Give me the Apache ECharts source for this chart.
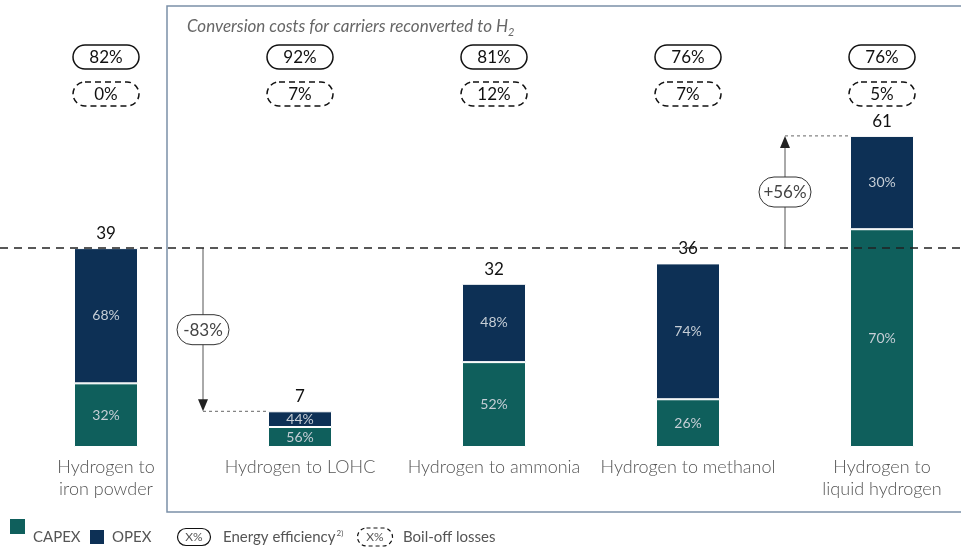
<!DOCTYPE html>
<html>
<head>
<meta charset="utf-8">
<script src="https://cdn.jsdelivr.net/npm/echarts@6/dist/echarts.min.js"></script>
<style>
  html, body { margin: 0; padding: 0; background: #fff; }
  #chart { width: 961px; height: 551px; }
</style>
</head>
<body>
<div id="chart"></div>
<script>
// Conversion cost per hydrogen carrier, split into CAPEX / OPEX shares
const categories = ['Hydrogen to\niron powder', 'Hydrogen to LOHC', 'Hydrogen to ammonia', 'Hydrogen to methanol', 'Hydrogen to\nliquid hydrogen'];
const totals = [39, 7, 32, 36, 61];
const capexShare = [32, 56, 52, 26, 70];
const opexShare = [68, 44, 48, 74, 30];
const efficiency = [82, 92, 81, 76, 76];
const boilOff = [0, 7, 12, 7, 5];
// Relative change versus the iron-powder reference: [from index, to index, label]
const changes = [[0, 1, '-83%'], [3, 4, '+56%']];

const CAPEX_COLOR = '#0f5f5c';
const OPEX_COLOR = '#0d3055';
const FONT = 'Lato, "Noto Sans", sans-serif';

const capexValues = totals.map((t, i) => t * capexShare[i] / 100);
const opexValues = totals.map((t, i) => t * opexShare[i] / 100);

const chart = echarts.init(document.getElementById('chart'), null, { renderer: 'canvas' });

const innerLabel = (shares) => ({
  show: true,
  position: 'inside',
  color: '#c6ced6',
  fontFamily: FONT,
  fontSize: 14,
  formatter: (p) => shares[p.dataIndex] + '%'
});

chart.setOption({
  animation: false,
  grid: { left: 9, width: 970, top: 90, height: 357, containLabel: false, outerBoundsMode: 'none' },
  xAxis: {
    type: 'category',
    data: categories,
    axisLine: { show: false },
    axisTick: { show: false },
    axisLabel: { color: '#555', fontFamily: FONT, fontSize: 18, fontWeight: 300, lineHeight: 22, margin: 9, interval: 0 }
  },
  yAxis: { type: 'value', min: 0, max: 70, show: false, splitLine: { show: false } },
  series: [
    {
      name: 'CAPEX', type: 'bar', stack: 'cost', barWidth: 64,
      data: capexValues,
      itemStyle: { color: CAPEX_COLOR, borderColor: '#fff', borderWidth: 1 },
      label: innerLabel(capexShare)
    },
    {
      name: 'OPEX', type: 'bar', stack: 'cost', barWidth: 64,
      data: opexValues,
      itemStyle: { color: OPEX_COLOR, borderColor: '#fff', borderWidth: 1 },
      label: innerLabel(opexShare)
    },
    {
      // totals above each stack
      name: 'Total', type: 'bar', barGap: '-100%', barWidth: 64,
      data: totals,
      itemStyle: { color: 'transparent' },
      z: 1,
      silent: true,
      label: {
        show: true, position: 'top', distance: 6,
        color: '#111', fontFamily: FONT, fontSize: 17,
        formatter: (p) => String(totals[p.dataIndex])
      }
    }
  ]
});

// ---- annotations positioned from the axes ----
const px = (i, v) => chart.convertToPixel({ xAxisIndex: 0, yAxisIndex: 0 }, [i, v]);
const yRef = px(0, totals[0])[1];
const halfBar = 32;

function pill(cx, cy, w, h, text, opts) {
  opts = opts || {};
  return {
    type: 'group',
    children: [
      {
        type: 'rect',
        shape: { x: cx - w / 2, y: cy - h / 2, width: w, height: h, r: h / 2 },
        style: { fill: '#fff', stroke: opts.stroke || '#111', lineWidth: opts.lineWidth || 1.5, lineDash: opts.dash || null },
        z: 20
      },
      {
        type: 'text',
        style: {
          x: cx, y: cy + 0.5, text: text, align: 'center', verticalAlign: 'middle',
          fill: opts.color || '#111', fontFamily: FONT, fontSize: opts.fontSize || 17
        },
        z: 21
      }
    ]
  };
}

const graphics = [];

// Frame around the reconverted carriers
graphics.push({
  type: 'rect',
  shape: { x: 167, y: 6, width: 820, height: 506 },
  style: { fill: 'none', stroke: '#7b90a8', lineWidth: 1.5 },
  z: 0
});
graphics.push({
  type: 'text',
  style: {
    x: 187, y: 27, verticalAlign: 'middle',
    text: '{t|Conversion costs for carriers reconverted to H}{s|2}',
    rich: {
      t: { fontFamily: FONT, fontStyle: 'italic', fontSize: 17, fill: '#666' },
      s: { fontFamily: FONT, fontStyle: 'italic', fontSize: 11, fill: '#666', padding: [10, 0, 0, 0] }
    }
  },
  z: 5
});

// Efficiency and boil-off pills above each bar
categories.forEach((c, i) => {
  const x = px(i, 0)[0];
  graphics.push(pill(x, 57, 66, 24, efficiency[i] + '%'));
  graphics.push(pill(x, 94, 66, 24, boilOff[i] + '%', { dash: [6, 4] }));
});

// Reference line at the iron-powder cost level
graphics.push({
  type: 'line',
  shape: { x1: 0, y1: yRef, x2: 961, y2: yRef },
  style: { stroke: '#222', lineWidth: 1.5, lineDash: [8, 6] },
  z: 15
});

// Change arrows between neighbouring categories
changes.forEach(([a, b, text]) => {
  const xa = px(a, 0)[0];
  const xb = px(b, 0)[0];
  const ax = (xa + xb) / 2;
  const yEnd = px(b, totals[b])[1];
  const dir = yEnd > yRef ? 1 : -1;
  graphics.push({
    type: 'line',
    shape: { x1: ax, y1: yRef, x2: ax, y2: yEnd - dir * 10 },
    style: { stroke: '#555', lineWidth: 1 },
    z: 10
  });
  graphics.push({
    type: 'polygon',
    shape: { points: [[ax - 5, yEnd - dir * 12], [ax + 5, yEnd - dir * 12], [ax, yEnd]] },
    style: { fill: '#222' },
    z: 11
  });
  graphics.push({
    type: 'line',
    shape: { x1: ax, y1: yEnd, x2: xb - halfBar, y2: yEnd },
    style: { stroke: '#666', lineWidth: 1, lineDash: [3, 3] },
    z: 10
  });
  graphics.push(pill(ax, (yRef + yEnd) / 2, 52, 30, text, { stroke: '#333', lineWidth: 1, color: '#444' }));
});

// Legend
const legendY = 537;
graphics.push({ type: 'rect', shape: { x: 10, y: 519, width: 15, height: 15 }, style: { fill: CAPEX_COLOR }, z: 5 });
graphics.push({ type: 'text', style: { x: 33, y: legendY, text: 'CAPEX', verticalAlign: 'middle', fill: '#555', fontFamily: FONT, fontSize: 15 }, z: 5 });
graphics.push({ type: 'rect', shape: { x: 90, y: 530, width: 14, height: 14 }, style: { fill: OPEX_COLOR }, z: 5 });
graphics.push({ type: 'text', style: { x: 112, y: legendY, text: 'OPEX', verticalAlign: 'middle', fill: '#555', fontFamily: FONT, fontSize: 15 }, z: 5 });
graphics.push(pill(194, legendY, 33, 17, 'X%', { lineWidth: 1.2, fontSize: 12, color: '#555' }));
graphics.push({
  type: 'text',
  style: {
    x: 223, y: legendY, verticalAlign: 'middle', text: '{a|Energy efficiency}{b|2)}',
    rich: {
      a: { fill: '#555', fontFamily: FONT, fontSize: 15 },
      b: { fill: '#555', fontFamily: FONT, fontSize: 8, padding: [0, 0, 8, 1] }
    }
  },
  z: 5
});
graphics.push(pill(375, legendY, 35, 18, 'X%', { lineWidth: 1.2, fontSize: 12, color: '#555', dash: [4, 3] }));
graphics.push({ type: 'text', style: { x: 403, y: legendY, text: 'Boil-off losses', verticalAlign: 'middle', fill: '#555', fontFamily: FONT, fontSize: 15 }, z: 5 });

chart.setOption({ graphic: graphics });
</script>
</body>
</html>
